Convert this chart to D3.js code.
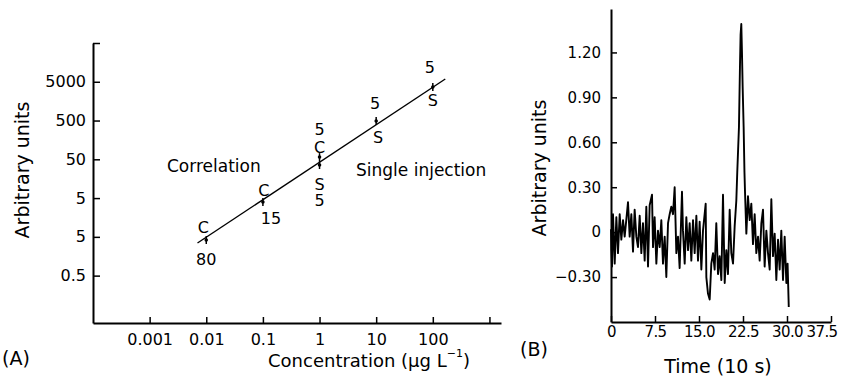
<!DOCTYPE html>
<html>
<head>
<meta charset="utf-8">
<script src="https://cdn.jsdelivr.net/npm/d3@7"></script>
<style>
  body { margin: 0; background: #fff; }
  text { font-family: "DejaVu Sans", sans-serif; fill: #000; }
</style>
</head>
<body>
<div id="container"></div>
<script>
// ---- panel A data ----
let xTicksA = [0.001, 0.01, 0.1, 1, 10, 100, 1000];
let xTickLabelsA = ["0.001", "0.01", "0.1", "1", "10", "100", ""];
let yTicksA = [0.05, 0.5, 5, 50, 500, 5000, 50000];
let yTickLabelsA = ["0.5", "5", "5", "50", "500", "5000", ""];

// correlation points (C) and single injection points (S)
let cConc = [0.01, 0.1, 1];
let cValue = [0.415, 3.96, 57];
let cCount = ["80", "15", "5"];
let sConc = [1, 10, 100];
let sValue = [35.6, 486, 3656];
let sCount = ["5", "5", "5"];

// fitted line ends
let fitConc = [0.007, 166];
let fitValue = [0.347, 5890];

// ---- panel B data ----
let xTicksB = [0, 7.5, 15, 22.5, 30, 37.5];
let xTickLabelsB = ["0", "7.5", "15.0", "22.5", "30.0", "37.5"];
let yTicksB = [-0.3, 0, 0.3, 0.6, 0.9, 1.2];
let yTickLabelsB = ["\u22120.30", "0", "0.30", "0.60", "0.90", "1.20"];

let timeB = [0, 0.06, 0.17, 0.34, 0.63, 0.91, 1.19, 1.48, 1.76, 2.05, 2.33, 2.90, 3.18, 3.47, 3.75, 4.03,
  4.32, 4.60, 4.89, 5.17, 5.45, 5.74, 6.02, 6.31, 6.59, 6.99, 7.16, 7.44, 7.73, 8.01, 8.30, 8.58, 8.86,
  9.15, 9.43, 9.72, 10.00, 10.28, 10.57, 10.85, 11.14, 11.42, 11.70, 12.10, 12.27, 12.56, 12.84, 13.13,
  13.41, 13.69, 13.98, 14.26, 14.55, 14.83, 15.11, 15.40, 15.68, 16.14, 16.25, 16.53, 16.82, 17.10, 17.39,
  17.67, 17.95, 18.24, 18.52, 18.81, 19.09, 19.38, 19.66, 19.94, 20.23, 20.51, 20.80, 21.08, 21.36, 21.53,
  21.81, 21.98, 22.09, 22.21, 22.32, 22.44, 22.61, 22.75, 22.85, 23.07, 23.35, 23.64, 23.92, 24.20, 24.49,
  24.77, 25.06, 25.34, 25.63, 25.91, 26.19, 26.48, 26.76, 27.05, 27.33, 27.61, 27.90, 28.18, 28.47, 28.75,
  29.03, 29.32, 29.60, 29.89, 30.10, 30.30];
let signalB = [0.02, -0.12, -0.23, 0.12, -0.21, 0.10, -0.14, 0.12, -0.05, 0.08, -0.03, 0.20, -0.03, 0.12, -0.13, 0.15,
  -0.03, -0.10, 0.11, -0.14, 0.06, -0.19, 0.17, -0.23, 0.18, 0.25, -0.10, 0.10, -0.21, 0.01, -0.10, 0.08, -0.21,
  -0.03, -0.30, 0.06, 0.12, 0.17, 0.12, 0.30, -0.14, -0.03, -0.24, 0.27, 0.01, -0.21, 0.10, -0.12,
  0.06, -0.19, 0.08, -0.14, 0.11, -0.19, 0.07, -0.25, 0.01, 0.19, -0.30, -0.41, -0.45, -0.21, -0.14,
  -0.25, 0.06, -0.28, -0.16, -0.32, 0.25, -0.34, -0.12, -0.28, 0.15, -0.14, -0.21, 0.04, 0.21, 0.41,
  0.70, 1.10, 1.32, 1.39, 1.21, 0.97, 0.70, 0.40, 0.26, -0.01, 0.24, 0.08, 0.19, -0.08, 0.12,
  -0.14, -0.03, -0.19, 0.06, 0.15, -0.23, 0.01, -0.14, -0.25, 0.22, -0.16, -0.01, -0.32, -0.05, -0.25,
  0.01, -0.32, -0.03, -0.34, -0.21, -0.50];

let w = 845;
let h = 378;

let svg = d3.select("#container")
  .append("svg")
  .attr("width", w)
  .attr("height", h)
  .style("background-color", "#fff");

// ================= panel A =================
let xA = d3.scaleLog().domain([0.0001, 1600]).range([93, 501]);
let yA = d3.scaleLog().domain([0.003, 50000]).range([323, 43]);

let axA = svg.append("g")
  .attr("transform", "translate(0,323)")
  .call(d3.axisBottom(xA)
    .tickValues(xTicksA)
    .tickFormat((d, i) => xTickLabelsA[i])
    .tickSizeInner(-6)
    .tickSizeOuter(0)
    .tickPadding(11));

let ayA = svg.append("g")
  .attr("transform", "translate(93,0)")
  .call(d3.axisLeft(yA)
    .tickValues(yTicksA)
    .tickFormat((d, i) => yTickLabelsA[i])
    .tickSizeInner(-7)
    .tickSizeOuter(0)
    .tickPadding(7));

[axA, ayA].forEach(g => {
  g.select(".domain").attr("stroke", "#000").attr("stroke-width", 2);
  g.selectAll(".tick line").attr("stroke", "#000").attr("stroke-width", 1.5);
  g.selectAll(".tick text").style("font-size", "16px").attr("fill", "#000");
});

// fit line
let fit = fitConc.map((c, i) => [c, fitValue[i]]);
svg.append("path")
  .datum(fit)
  .attr("fill", "none")
  .attr("stroke", "#000")
  .attr("stroke-width", 1.4)
  .attr("d", d3.line().x(d => xA(d[0])).y(d => yA(d[1])));

// points with small bars
function drawPoints(conc, vals) {
  conc.forEach((c, i) => {
    let px = xA(c), py = yA(vals[i]);
    svg.append("line")
      .attr("x1", px).attr("x2", px)
      .attr("y1", py - 4).attr("y2", py + 4)
      .attr("stroke", "#000").attr("stroke-width", 1.5);
    svg.append("circle")
      .attr("cx", px).attr("cy", py).attr("r", 1.8).attr("fill", "#000");
  });
}
drawPoints(cConc, cValue);
drawPoints(sConc, sValue);

// annotation offsets [dx, dy] for letter and count
let cLetterOff = [[-3, -12], [1, -12], [0, -10]];
let cCountOff = [[0, 20], [8, 16], [0, -28]];
let sLetterOff = [[0, 19], [2, 16], [0, 13]];
let sCountOff = [[0, 35], [-1, -18], [-3, -20]];

function annotate(conc, vals, letter, counts, lOff, nOff) {
  conc.forEach((c, i) => {
    let px = xA(c), py = yA(vals[i]);
    svg.append("text")
      .attr("x", px + lOff[i][0]).attr("y", py + lOff[i][1])
      .attr("text-anchor", "middle").attr("dominant-baseline", "central")
      .style("font-size", "16px").text(letter);
    svg.append("text")
      .attr("x", px + nOff[i][0]).attr("y", py + nOff[i][1])
      .attr("text-anchor", "middle").attr("dominant-baseline", "central")
      .style("font-size", "16px").text(counts[i]);
  });
}
annotate(cConc, cValue, "C", cCount, cLetterOff, cCountOff);
annotate(sConc, sValue, "S", sCount, sLetterOff, sCountOff);

svg.append("text").attr("x", 167).attr("y", 166)
  .attr("dominant-baseline", "central").style("font-size", "17px").text("Correlation");
svg.append("text").attr("x", 356).attr("y", 170)
  .attr("dominant-baseline", "central").style("font-size", "17px").text("Single injection");

// axis titles
svg.append("text")
  .attr("transform", "translate(22,170) rotate(-90)")
  .attr("text-anchor", "middle").attr("dominant-baseline", "central")
  .style("font-size", "19px").text("Arbitrary units");

let xt = svg.append("text")
  .attr("x", 369).attr("y", 360)
  .attr("text-anchor", "middle").attr("dominant-baseline", "central")
  .style("font-size", "18px");
xt.append("tspan").text("Concentration (\u00b5g L");
xt.append("tspan").attr("dy", -7).style("font-size", "11px").text("\u22121");
xt.append("tspan").attr("dy", 7).text(")");

svg.append("text").attr("x", 2).attr("y", 358)
  .attr("dominant-baseline", "central").style("font-size", "19px").text("(A)");

// ================= panel B =================
let xB = d3.scaleLinear().domain([0, 37.5]).range([611, 831]);
let yB = d3.scaleLinear().domain([-0.6, 1.49]).range([322, 9]);

let axB = svg.append("g")
  .attr("transform", "translate(0,322)")
  .call(d3.axisBottom(xB)
    .tickValues(xTicksB)
    .tickFormat((d, i) => xTickLabelsB[i])
    .tickSizeInner(-6)
    .tickSizeOuter(0)
    .tickPadding(4));

let ayB = svg.append("g")
  .attr("transform", "translate(611,0)")
  .call(d3.axisLeft(yB)
    .tickValues(yTicksB)
    .tickFormat((d, i) => yTickLabelsB[i])
    .tickSizeInner(-6)
    .tickSizeOuter(0)
    .tickPadding(10));

[axB, ayB].forEach(g => {
  g.select(".domain").attr("stroke", "#000").attr("stroke-width", 2);
  g.selectAll(".tick line").attr("stroke", "#000").attr("stroke-width", 1.5);
  g.selectAll(".tick text").style("font-size", "15px").attr("fill", "#000");
});

// tighter x labels, last one kept inside the picture
axB.selectAll(".tick text").style("letter-spacing", "-0.6px");
axB.selectAll(".tick text").filter((d, i) => i === xTicksB.length - 1)
  .attr("text-anchor", "end").attr("dx", 6);

let trace = timeB.map((t, i) => [t, signalB[i]]);
svg.append("path")
  .datum(trace)
  .attr("fill", "none")
  .attr("stroke", "#000")
  .attr("stroke-width", 1.9)
  .attr("stroke-linejoin", "round")
  .attr("d", d3.line().x(d => xB(d[0])).y(d => yB(d[1])));

svg.append("text")
  .attr("transform", "translate(539,168) rotate(-90)")
  .attr("text-anchor", "middle").attr("dominant-baseline", "central")
  .style("font-size", "19px").text("Arbitrary units");

svg.append("text").attr("x", 718).attr("y", 366)
  .attr("text-anchor", "middle").attr("dominant-baseline", "central")
  .style("font-size", "19px").text("Time (10 s)");

svg.append("text").attr("x", 520).attr("y", 349)
  .attr("dominant-baseline", "central").style("font-size", "19px").text("(B)");
</script>
</body>
</html>
